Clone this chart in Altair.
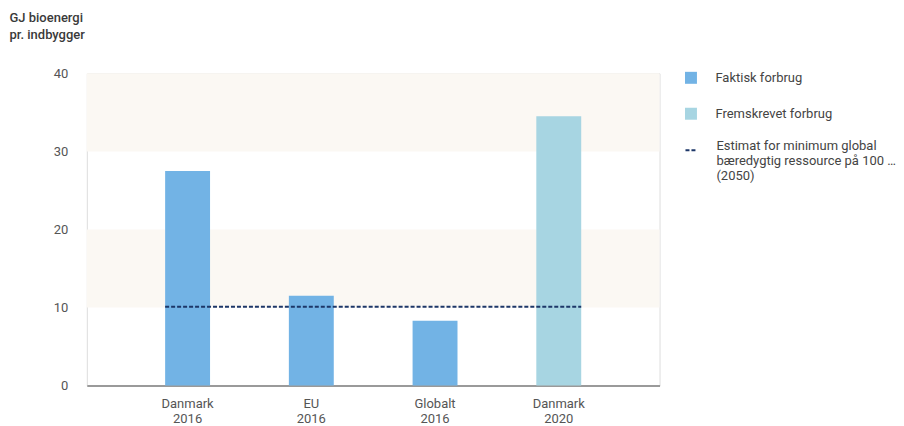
import altair as alt
import pandas as pd

# ---- data ----
categories = ["Danmark 2016", "EU 2016", "Globalt 2016", "Danmark 2020"]
values = [27.5, 11.5, 8.3, 34.5]
series = ["Faktisk forbrug", "Faktisk forbrug", "Faktisk forbrug", "Fremskrevet forbrug"]
series_domain = ["Faktisk forbrug", "Fremskrevet forbrug"]
series_colors = ["#72b3e5", "#a7d5e2"]
estimate_value = [10.1]
estimate_label = ["Estimat for minimum global|bæredygtig ressource på 100 EJ|(2050)"]
band_low = [10, 30]
band_high = [20, 40]
y_ticks = [0, 10, 20, 30, 40]
y_title = ["GJ bioenergi", "pr. indbygger"]

W, H = 574, 313
FONT = "Roboto"

bars_df = pd.DataFrame({"cat": categories, "value": values, "series": series})
rule_df = pd.DataFrame({"start": [categories[0]], "end": [categories[-1]],
                        "value": estimate_value, "label": estimate_label})
band_df = pd.DataFrame({"lo": band_low, "hi": band_high})

x_scale = alt.Scale(domain=categories, paddingInner=0.637, paddingOuter=0.633)
y_scale = alt.Scale(domain=[0, 40], nice=False)

y_axis = alt.Axis(values=y_ticks, title=y_title, titleAngle=0, titleAlign="left",
                  titleBaseline="top", titleX=-78, titleY=-62, titleFontSize=13,
                  titleFontWeight=500, titleColor="#3a3a3a", titleLineHeight=17,
                  titleFont=FONT, domain=False, ticks=False, grid=False,
                  labelPadding=19, labelFontSize=13, labelColor="#555555", labelFont=FONT)
x_axis = alt.Axis(labelExpr="split(datum.label, ' ')", labelAngle=0, ticks=False,
                  domainColor="#9a9a9a", domainWidth=2, labelPadding=12,
                  labelFontSize=13, labelColor="#555555", labelLineHeight=15,
                  labelFont=FONT, title=None, grid=False)

bands = alt.Chart(band_df).mark_rect(color="#fbf8f3").encode(
    y=alt.Y("lo:Q", scale=y_scale, axis=y_axis),
    y2="hi:Q",
    x=alt.value(0),
    x2=alt.value(W),
)

bars = alt.Chart(bars_df).mark_bar().encode(
    x=alt.X("cat:N", scale=x_scale, axis=x_axis, sort=categories),
    y=alt.Y("value:Q", scale=y_scale, axis=y_axis),
    color=alt.Color("series:N",
                    scale=alt.Scale(domain=series_domain, range=series_colors),
                    legend=alt.Legend(title=None, orient="none", legendX=599, legendY=-2,
                                      symbolType="square", symbolSize=144,
                                      symbolStrokeWidth=0, labelOffset=18,
                                      rowPadding=22, labelFontSize=13,
                                      labelColor="#444444", labelFont=FONT, padding=0)),
)

rule = alt.Chart(rule_df).mark_rule(color="#1d3768", strokeWidth=2).encode(
    x=alt.X("start:N", scale=x_scale, axis=x_axis, bandPosition=0),
    x2=alt.X2("end:N", bandPosition=1),
    y=alt.Y("value:Q", scale=y_scale, axis=y_axis),
    strokeDash=alt.StrokeDash("label:N", scale=alt.Scale(range=[[4, 2]]),
                              legend=alt.Legend(title=None, orient="none", legendX=599,
                                                legendY=70, labelExpr="split(datum.label, '|')",
                                                labelBaseline="alphabetic", labelLimit=185,
                                                symbolSize=144, symbolStrokeWidth=2,
                                                symbolStrokeColor="#1d3768",
                                                labelOffset=18, labelFontSize=13,
                                                labelColor="#444444", labelFont=FONT,
                                                padding=0)),
)

chart = alt.layer(bands, bars, rule).properties(
    width=W, height=H,
    padding={"left": 1, "top": 3, "right": 0, "bottom": 0},
    background="white",
).configure_view(stroke=None).configure(font=FONT)

chart.save("out.html", embed_options={"renderer": "svg", "actions": False})
